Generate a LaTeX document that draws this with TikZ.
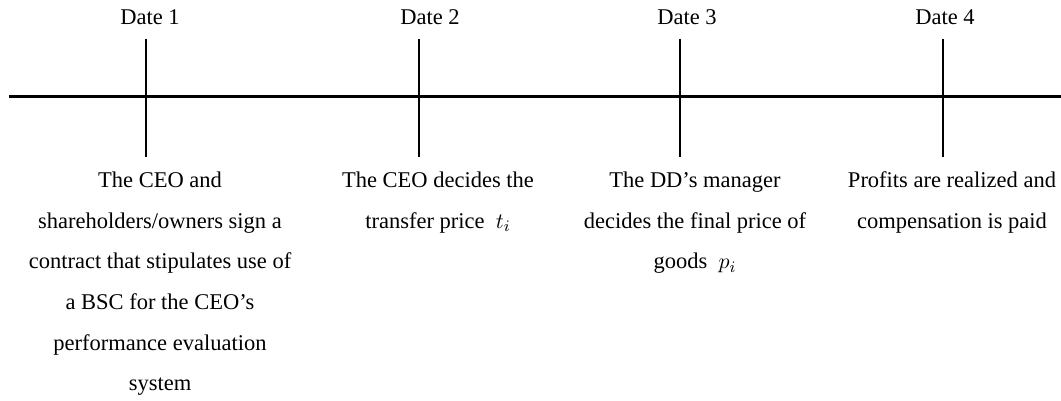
\documentclass[tikz,border=0pt]{standalone}
\usepackage{fontspec}
\setmainfont{Liberation Serif}
\usetikzlibrary{positioning}

\begin{document}
\begin{tikzpicture}[x=0.5pt, y=-0.5pt, font=\fontsize{11.25}{20.3}\selectfont, axis/.style={line width=1.5pt}, stem/.style={line width=1.4pt}, date/.style={inner sep=0pt}, event/.style={align=center, inner sep=0pt}]
		\useasboundingbox (0,0) rectangle (1061,401);
		\coordinate (L) at (9,97);
		\coordinate (R) at (1061,97);
		\coordinate (T1) at (146,39);
		\coordinate (B1) at (146,157);
		\coordinate (T2) at (419,39);
		\coordinate (B2) at (419,157);
		\coordinate (T3) at (680,39);
		\coordinate (B3) at (680,157);
		\coordinate (T4) at (943,39);
		\coordinate (B4) at (943,157);

		\node[date, above=7pt of T1, xshift=2pt] (D1) {Date 1};
		\node[date, above=7pt of T2, xshift=5.5pt] (D2) {Date 2};
		\node[date, above=7pt of T3, xshift=3.5pt] (D3) {Date 3};
		\node[date, above=7pt of T4, xshift=1pt] (D4) {Date 4};

		\node[event, below=7.3pt of B1, xshift=7pt] (E1) {The CEO and\\shareholders/owners sign a\\contract that stipulates use of\\a BSC for the CEO’s\\performance evaluation\\system};
		\node[event, below=7.3pt of B2, xshift=9.5pt] (E2) {The CEO decides the\\transfer price \ $t_i$};
		\node[event, below=7.3pt of B3, xshift=7.5pt] (E3) {The DD’s manager\\decides the final price of\\goods \ $p_i$};
		\node[event, below=7.3pt of B4, xshift=4.5pt] (E4) {Profits are realized and\\compensation is paid};

		\draw[axis] (L) -- (R);
		\draw[stem] (T1) -- (B1);
		\draw[stem] (T2) -- (B2);
		\draw[stem] (T3) -- (B3);
		\draw[stem] (T4) -- (B4);
	\end{tikzpicture}
\end{document}
